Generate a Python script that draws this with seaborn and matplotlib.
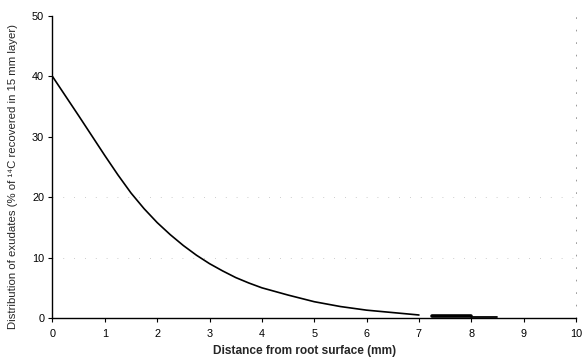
import matplotlib
matplotlib.use("Agg")
import matplotlib.pyplot as plt
import seaborn as sns
import pandas as pd

# Data
distance = [0, 0.25, 0.5, 0.75, 1, 1.25, 1.5, 1.75, 2, 2.25, 2.5, 2.75, 3, 3.25,
            3.5, 3.75, 4, 4.5, 5, 5.5, 6, 6.5, 7]
exudates = [40, 36.75, 33.5, 30.2, 26.9, 23.7, 20.7, 18.1, 15.8, 13.8, 12.0, 10.4,
            9.0, 7.8, 6.7, 5.8, 5.0, 3.8, 2.7, 1.9, 1.3, 0.9, 0.5]
tail_distance = [7.25, 8.0]
tail_values = [0.3, 0.3]
tail2_distance = [8.0, 8.5]
tail2_values = [0.15, 0.15]
x_ticks = list(range(0, 11))
y_ticks = [0, 10, 20, 30, 40, 50]
grid_levels = [10, 20]

sns.set_style("white")
plt.rcParams['font.family'] = ['Liberation Sans', 'DejaVu Sans']

fig = plt.figure(figsize=(5.82, 3.58), dpi=100)
ax = fig.add_axes([0.0902, 0.1117, 0.8995, 0.8433])

df = pd.DataFrame({"distance": distance, "exudates": exudates})
sns.lineplot(data=df, x="distance", y="exudates", ax=ax, color="black", linewidth=1.2)
df2 = pd.DataFrame({"distance": tail_distance, "exudates": tail_values})
sns.lineplot(data=df2, x="distance", y="exudates", ax=ax, color="black", linewidth=2.6)
df3 = pd.DataFrame({"distance": tail2_distance, "exudates": tail2_values})
sns.lineplot(data=df3, x="distance", y="exudates", ax=ax, color="black", linewidth=1.3)

for g in grid_levels:
    ax.axhline(g, color="#bbbbbb", linewidth=0.6, linestyle=(0, (1, 12)), zorder=0)

ax.set_xlim(0, 10)
ax.set_ylim(0, 50)
ax.set_xticks(x_ticks)
ax.set_yticks(y_ticks)
ax.tick_params(axis="both", direction="out", length=3, width=0.8, labelsize=7.8,
               colors="black", pad=3)
ax.tick_params(axis="x", pad=5)
ax.xaxis.set_ticks_position("bottom")
ax.yaxis.set_ticks_position("left")

ax.spines["top"].set_visible(False)
ax.spines["right"].set_linestyle((0, (1, 14)))
ax.spines["right"].set_color("#888888")
ax.spines["right"].set_linewidth(0.6)
ax.spines["left"].set_color("black")
ax.spines["bottom"].set_color("black")
ax.spines["left"].set_linewidth(1.0)
ax.spines["bottom"].set_linewidth(1.0)

ax.set_xlabel("Distance from root surface (mm)", fontsize=8.6, fontweight="bold")
ax.set_ylabel("Distribution of exudates (% of \u00b9\u2074C recovered in 15 mm layer)",
              fontsize=8.2)
ax.xaxis.set_label_coords(0.482, -0.088)
ax.yaxis.set_label_coords(-0.066, 0.47)

fig.savefig("out.png", dpi=100, facecolor="white")
